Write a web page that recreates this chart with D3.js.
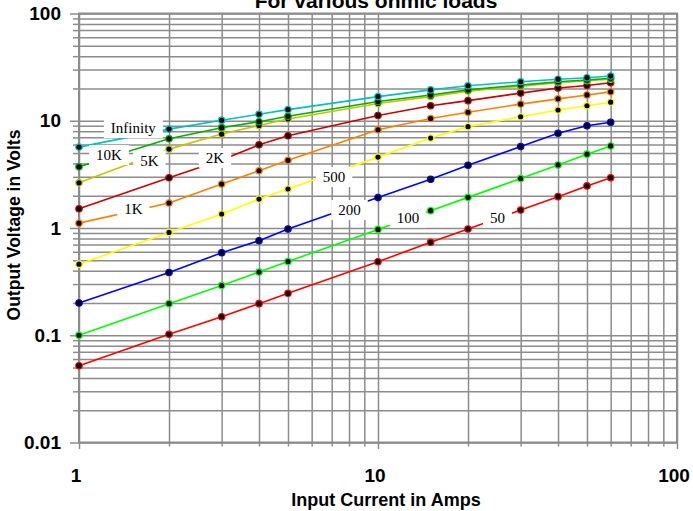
<!DOCTYPE html>
<html>
<head>
<meta charset="utf-8">
<script src="https://cdn.jsdelivr.net/npm/d3@7/dist/d3.min.js"></script>
<style>
  html, body { margin: 0; padding: 0; background: #fff; }
  svg { display: block; }
</style>
</head>
<body>
<script>
// input current (A) at which every load was measured
const currents = [1, 2, 3, 4, 5, 10, 15, 20, 30, 40, 50, 60]

// output voltage (V) per load
const v50   = [0.052, 0.102, 0.149, 0.197, 0.246, 0.485, 0.736, 0.98, 1.47, 1.96, 2.47, 2.94]
const v100  = [0.1, 0.197, 0.291, 0.388, 0.487, 0.97, 1.45, 1.93, 2.89, 3.87, 4.88, 5.82]
const v200  = [0.2, 0.385, 0.588, 0.761, 0.98, 1.92, 2.85, 3.85, 5.74, 7.64, 8.97, 9.68]
const v500  = [0.46, 0.91, 1.35, 1.86, 2.31, 4.58, 6.89, 8.81, 10.9, 12.6, 13.8, 14.9]
const v1k   = [1.11, 1.71, 2.57, 3.42, 4.28, 8.24, 10.5, 12.0, 14.3, 16.0, 17.4, 18.6]
const v2k   = [1.51, 2.94, 4.3, 5.97, 7.24, 11.2, 13.8, 15.4, 18.1, 20.2, 21.3, 22.6]
const v5k   = [2.64, 5.44, 7.51, 9.03, 10.4, 14.5, 16.8, 18.9, 21.0, 22.6, 23.6, 24.4]
const v10k  = [3.72, 6.79, 8.62, 9.8, 11.0, 15.1, 17.4, 19.4, 21.5, 23.1, 24.0, 24.9]
const vInf  = [5.68, 8.36, 10.1, 11.5, 12.7, 16.8, 19.4, 21.2, 23.1, 24.4, 25.2, 26.1]

const loadNames = ['50', '100', '200', '500', '1K', '2K', '5K', '10K', 'Infinity']
const loadValues = [v50, v100, v200, v500, v1k, v2k, v5k, v10k, vInf]

// where each load name sits, in data units (amps, volts)
const labelAmps  = [25.1, 12.6, 8.03, 7.13, 1.52, 2.85, 1.72, 1.26, 1.52]
const labelVolts = [1.25, 1.25, 1.47, 2.99, 1.50, 4.5, 4.26, 4.79, 8.56]

const xMajor = [1, 10, 100]
const yMajor = [0.01, 0.1, 1, 10, 100]
const xMajorText = ['1', '10', '100']
const yMajorText = ['0.01', '0.1', '1', '10', '100']

const W = 693, H = 511
const LEFT = 79, RIGHT = 677, TOP = 13.5, BOTTOM = 442.5
const GRID = '#8c8c8c'

const colors = {
  '50': '#ff0000', '100': '#00ff00', '200': '#0000ff', '500': '#ffff00',
  '1K': '#ff8000', '2K': '#cc0000', '5K': '#c4c400', '10K': '#00b000',
  'Infinity': '#00c0c0'
}

const svg = d3.select('body').append('svg')
  .attr('width', W)
  .attr('height', H)

const x = d3.scaleLog().domain([1, 100]).range([LEFT, RIGHT])
const y = d3.scaleLog().domain([0.01, 100]).range([BOTTOM, TOP])

// vertical grid + ticks below
const gx = svg.append('g')
  .attr('transform', `translate(0,${BOTTOM})`)
  .call(d3.axisBottom(x).tickSize(-(BOTTOM - TOP)).tickSizeOuter(0).tickFormat(''))
gx.select('.domain').remove()
gx.selectAll('.tick line').attr('stroke', GRID).attr('stroke-width', 1.5)
gx.selectAll('.tick').append('line')
  .attr('y1', 0).attr('y2', d => xMajor.includes(d) ? 6.5 : 4)
  .attr('stroke', GRID).attr('stroke-width', 1.5)

// horizontal grid + ticks to the left
const gy = svg.append('g')
  .attr('transform', `translate(${LEFT},0)`)
  .call(d3.axisLeft(y).tickSize(-(RIGHT - LEFT)).tickSizeOuter(0).tickFormat(''))
gy.select('.domain').remove()
gy.selectAll('.tick line').attr('stroke', GRID).attr('stroke-width', 1.5)
gy.selectAll('.tick').append('line')
  .attr('x1', 0).attr('x2', d => yMajor.includes(d) ? -9 : -6)
  .attr('stroke', GRID).attr('stroke-width', 1.5)

// plot frame
svg.append('rect')
  .attr('x', LEFT).attr('y', TOP)
  .attr('width', RIGHT - LEFT).attr('height', BOTTOM - TOP)
  .attr('fill', 'none').attr('stroke', GRID).attr('stroke-width', 2)

// tick labels
svg.append('g').selectAll('text')
  .data(xMajor)
  .join('text')
  .attr('x', d => x(d) - 3)
  .attr('y', 482)
  .attr('text-anchor', 'middle')
  .style('font', 'bold 19px Arial, "Liberation Sans", sans-serif')
  .text((d, i) => xMajorText[i])

svg.append('g').selectAll('text')
  .data(yMajor)
  .join('text')
  .attr('x', 61)
  .attr('y', d => y(d))
  .attr('dy', '0.35em')
  .attr('text-anchor', 'end')
  .style('font', 'bold 19px Arial, "Liberation Sans", sans-serif')
  .text((d, i) => yMajorText[i])

// titles
svg.append('text')
  .attr('x', 376).attr('y', 7.5)
  .attr('text-anchor', 'middle')
  .style('font', 'bold 21px Arial, "Liberation Sans", sans-serif')
  .text('For various ohmic loads')

svg.append('text')
  .attr('x', 386).attr('y', 506)
  .attr('text-anchor', 'middle')
  .style('font', 'bold 18px Arial, "Liberation Sans", sans-serif')
  .text('Input Current in Amps')

svg.append('text')
  .attr('transform', 'translate(20,225) rotate(-90)')
  .attr('text-anchor', 'middle')
  .style('font', 'bold 17.5px Arial, "Liberation Sans", sans-serif')
  .text('Output Voltage in Volts')

// series
const line = d3.line()
  .x(d => x(d[0]))
  .y(d => y(d[1]))

loadNames.forEach((name, i) => {
  const pts = currents.map((c, j) => [c, loadValues[i][j]])
  const g = svg.append('g')
  g.append('path')
    .attr('d', line(pts))
    .attr('fill', 'none')
    .attr('stroke', colors[name])
    .attr('stroke-width', 1.6)
  g.selectAll('circle')
    .data(pts)
    .join('circle')
    .attr('cx', d => x(d[0]))
    .attr('cy', d => y(d[1]))
    .attr('r', 3.2)
    .attr('fill', '#000')
    .attr('stroke', colors[name])
    .attr('stroke-width', 1.2)
})

// load name boxes on top
loadNames.forEach((name, i) => {
  const g = svg.append('g')
    .attr('transform', `translate(${x(labelAmps[i])},${y(labelVolts[i])})`)
  const t = g.append('text')
    .attr('text-anchor', 'middle')
    .attr('dy', '0.35em')
    .style('font', '15px "Times New Roman", "Liberation Serif", serif')
    .text(name)
  const w = t.node().getComputedTextLength()
  g.insert('rect', 'text')
    .attr('x', -w / 2 - 7).attr('y', -10)
    .attr('width', w + 14).attr('height', 20)
    .attr('fill', '#fff')
})
</script>
</body>
</html>
